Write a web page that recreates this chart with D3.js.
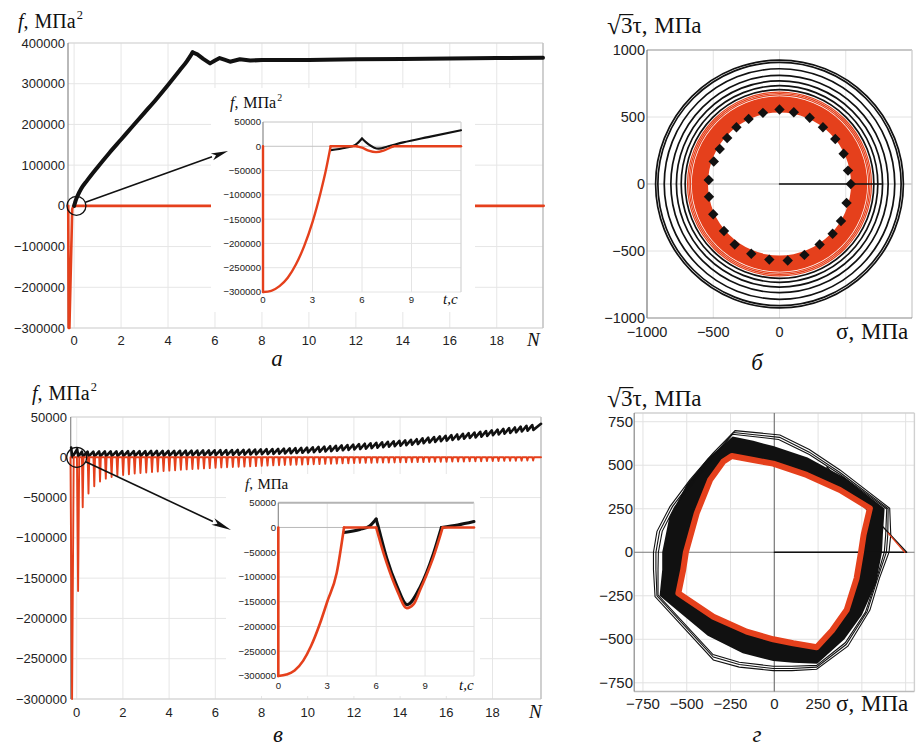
<!DOCTYPE html>
<html><head><meta charset="utf-8">
<script src="https://cdn.jsdelivr.net/npm/d3@7"></script>
<style>
html,body{margin:0;padding:0;background:#fff;}
svg{display:block;}
.tk{font-family:"Liberation Sans",Arial,sans-serif;fill:#222;}
.sf{font-family:"Liberation Serif","Times New Roman",serif;fill:#111;}
</style></head><body>
<svg id="fig" width="920" height="747"></svg>
<script>
// ================= DATA =================
// Panel а (main): f vs N
const aTickX = [0,2,4,6,8,10,12,14,16,18];
const aTickY = [-300000,-200000,-100000,0,100000,200000,300000,400000];
const aBlackN = [0,0.05,0.15,0.3,0.55,1.0,1.5,2.0,2.5,3.0,3.5,4.0,4.5,4.8,5.05,5.25,5.5,5.79,6.0,6.2,6.4,6.64,6.85,7.06,7.5,8.0,9.0,10.0,12.0,14.0,16.0,18.0,19.97];
const aBlackF = [0,10000,25000,42000,62000,95000,130000,163000,196000,229000,262000,297000,333000,355000,377000,372000,361000,350000,357000,363000,359000,354000,357000,360000,357000,358000,358000,358000,360000,361000,362000,363000,364000];
const aRedN = [-0.25,-0.23,-0.2,-0.08,-0.03,20];
const aRedF = [0,-300000,-300000,-8000,0,0];

// Inset а: f vs t
const iaTickX = [0,3,6,9];
const iaTickY = [-300000,-250000,-200000,-150000,-100000,-50000,0,50000];
const iaRedT = [0,0.001,0.5,1.0,1.5,2.0,2.5,3.0,3.5,3.8,4.1,5.7,6.0,6.4,6.85,7.3,7.7,7.9,12];
const iaRedF = [0,-300000,-297600,-288000,-270700,-243000,-205000,-156000,-94000,-51000,0,0,-3000,-9000,-12000,-9000,-3000,0,0];
const iaBlackT = [4.1,5.0,5.6,6.0,6.4,7.0,7.6,8.5,10,12];
const iaBlackF = [-8000,-3000,3000,16000,4000,-5000,0,8000,19000,33000];

// Panel в (main): f vs N, one entry per load half-cycle
const vTickX = [0,2,4,6,8,10,12,14,16,18];
const vTickY = [-300000,-250000,-200000,-150000,-100000,-50000,0,50000];
const vDip = [-300000,-166000,-62000,-45000,-36000,-30000,-26500,-24500,-23000,-22000,
 -21000,-20200,-19500,-18800,-18200,-17600,-17000,-16500,-16000,-15500,
 -15000,-14600,-14200,-13800,-13400,-13000,-12700,-12400,-12100,-11800,
 -11500,-11200,-10900,-10600,-10300,-10000,-9800,-9600,-9400,-9200,
 -9000,-8800,-8600,-8400,-8200,-8000,-7800,-7600,-7400,-7200,
 -7000,-6900,-6800,-6700,-6600,-6500,-6400,-6300,-6200,-6100,
 -6000,-5900,-5800,-5700,-5600,-5500,-5400,-5300,-5200,-5100,
 -5000,-4900,-4800,-4700,-4600,-4500,-4400,-4300,-4200,-4100,-4000];
const vBlackPeak = [12000,10000,7000,7000,7000,7200,7200,7300,7400,7500,
 7500,7600,7600,7700,7800,7800,7900,8000,8000,8100,
 8200,8300,8400,8500,8600,8700,8800,8900,9000,9100,
 9200,9400,9600,9800,10000,10200,10400,10700,11000,11300,
 11600,12000,12400,12800,13200,13700,14200,14700,15200,15700,
 16200,16800,17400,18000,18600,19200,19800,20400,21000,21700,
 22400,23500,24300,25100,25900,26700,27500,28300,29100,29900,
 30700,31600,32500,33400,34300,35200,36100,37000,38000,39000,40000];
const vBlackLow = [0,1000,1000,1100,1200,1300,1300,1400,1400,1500,
 1500,1600,1600,1700,1800,1800,1900,2000,2000,2100,
 2200,2300,2400,2500,2600,2700,2800,2900,3000,3100,
 3200,3400,3600,3800,4000,4200,4400,4700,5000,5300,
 5600,6000,6400,6800,7200,7700,8200,8700,9200,9700,
 10200,10800,11400,12000,12600,13200,13800,14400,15000,15700,
 16400,17500,18300,19100,19900,20700,21500,22300,23100,23900,
 24700,25600,26500,27400,28300,29200,30100,31000,32000,33000,34000];

// Inset в: f vs t
const ivTickX = [0,3,6,9];
const ivTickY = [-300000,-250000,-200000,-150000,-100000,-50000,0,50000];
const ivRedT = [0,0.001,0.5,1.0,1.53,2.0,2.56,3.0,3.58,4.03,6.0,6.3,6.65,7.27,7.88,8.3,8.7,9.1,9.52,10.08,12];
const ivRedF = [0,-300000,-297000,-289000,-269000,-240000,-193500,-150000,-92000,0,0,-35000,-72000,-126000,-163000,-155000,-126000,-95000,-59000,0,0];
const ivBlackT = [4.03,5.0,5.6,6.0,6.1,6.65,7.27,7.9,8.7,9.52,10.0,11,12];
const ivBlackF = [-10000,-4000,3000,17000,5000,-62000,-118000,-156000,-120000,-52000,0,5000,12000];

// Panel б: sigma - sqrt(3)tau plane
const bTickY = [-1000,-500,0,500,1000];
const bTickX = [-1000,-500,0];
const bBlackR = [935,918,870,820,778,742,712];
const bRedInner = 540, bRedOuter = 662;
const bRedThinR = [672,683,694];
const bDiamS = [0,108,228,328,421,484,517,538,506,464,401,303,188,62,-77,-213,-338,-419,-500,-532,-534,-496,-451,-395,-325,-233,-125];
const bDiamT = [556,536,494,423,336,226,100,0,-141,-276,-371,-451,-529,-571,-564,-521,-451,-351,-226,-95,30,168,261,343,423,486,531];
const bLoad = [[0,0],[770,0]];

// Panel г: loops in sigma - sqrt(3)tau plane
const gTick = [-750,-500,-250,0,250,500,750];
const gTickXLabels = [-750,-500,-250,0,250];
const gRed = [[-243,553],[-120,530],[-6,509],[185,444],[375,358],[546,253],[510,100],[495,0],[470,-150],[413,-332],[330,-450],[242,-546],[108,-523],[-6,-500],[-158,-456],[-348,-370],[-548,-236],[-520,-100],[-505,0],[-443,224],[-367,415],[-291,521]];
const gDense = [[-238,665],[-120,640],[-6,610],[190,545],[400,430],[630,252],[620,100],[615,0],[580,-180],[500,-360],[400,-500],[245,-640],[108,-635],[-6,-625],[-180,-580],[-380,-480],[-655,-250],[-640,-100],[-640,0],[-600,200],[-500,390],[-380,540]];
const gOuter1 = [[-224,699],[32,674],[200,590],[375,473],[659,253],[665,100],[655,0],[600,-150],[546,-332],[420,-540],[242,-672],[100,-680],[-6,-680],[-200,-660],[-348,-619],[-681,-255],[-690,-100],[-690,0],[-670,120],[-596,262],[-482,416],[-350,570]];
const gOuter2 = [[-232,688],[30,660],[200,575],[375,458],[650,250],[648,100],[640,0],[590,-150],[530,-340],[410,-530],[242,-660],[100,-668],[-6,-668],[-200,-645],[-348,-602],[-670,-250],[-676,-100],[-676,0],[-655,120],[-582,262],[-470,410],[-345,560]];
const gOuter3 = [[-238,678],[25,648],[200,562],[378,445],[642,248],[636,100],[628,0],[582,-160],[520,-345],[405,-520],[242,-650],[100,-655],[-6,-655],[-200,-632],[-350,-588],[-664,-246],[-664,-100],[-662,0],[-640,120],[-570,258],[-460,404],[-342,552]];
const gLoadBlack = [[0,0],[756,0],[300,490]];
const gLoadRed = [[745,0],[650,110]];

// ================= DRAW =================
const svg = d3.select("#fig");
const RED = "#e5401c", BLK = "#111";
const fmt = v => v < 0 ? "\u2212" + Math.abs(v) : String(v);
const MONO = d3.curveMonotoneX;

function vline(g, X, y0, y1, c, w){ g.append("line").attr("x1",X).attr("x2",X).attr("y1",y0).attr("y2",y1).attr("stroke",c).attr("stroke-width",w); }
function hline(g, Y, x0, x1, c, w){ g.append("line").attr("x1",x0).attr("x2",x1).attr("y1",Y).attr("y2",Y).attr("stroke",c).attr("stroke-width",w); }
function series(g, pts, X, Y, color, width, curve){
  const line = d3.line().x(d=>X(d[0])).y(d=>Y(d[1])).curve(curve||d3.curveLinear);
  return g.append("path").datum(pts).attr("d", line).attr("fill","none").attr("stroke",color)
    .attr("stroke-width",width).attr("stroke-linejoin","round").attr("stroke-linecap","round");
}
// draw a series split at the given indices (corners stay sharp), each piece smoothed
function pieces(g, xs, ys, cuts, X, Y, color, width, curves){
  const pts = xs.map((v,i)=>[v, ys[i]]);
  const idx = [0, ...cuts, pts.length-1];
  for (let i=0;i<idx.length-1;i++){
    series(g, pts.slice(idx[i], idx[i+1]+1), X, Y, color, width, curves[i]);
  }
}
const zip = (a,b) => a.map((v,i)=>[v,b[i]]);
function tickText(g, x, y, txt, size, anchor){
  return g.append("text").attr("class","tk").attr("x",x).attr("y",y).attr("font-size",size)
    .attr("text-anchor",anchor||"middle").text(txt);
}
function fLabel(g, x, y, size, sup){
  const t = g.append("text").attr("class","sf").attr("x",x).attr("y",y).attr("font-size",size);
  t.append("tspan").attr("font-style","italic").text("f");
  t.append("tspan").text(",");
  t.append("tspan").attr("dx", size*0.3).text("МПа");
  if (sup) t.append("tspan").attr("dx",1).attr("dy",-size*0.45).attr("font-size",size*0.62).text("2");
}
function arrow(g, x0, y0, x1, y1, len, hw){
  const ang = Math.atan2(y1-y0, x1-x0);
  const bx = x1 - len*Math.cos(ang), by = y1 - len*Math.sin(ang);
  g.append("line").attr("x1",x0).attr("y1",y0).attr("x2",bx).attr("y2",by).attr("stroke",BLK).attr("stroke-width",1.6);
  const px = -Math.sin(ang)*hw, py = Math.cos(ang)*hw;
  g.append("path").attr("d",`M${x1},${y1}L${bx+px},${by+py}L${bx+len*0.25*Math.cos(ang)},${by+len*0.25*Math.sin(ang)}L${bx-px},${by-py}Z`).attr("fill",BLK);
}
function sqrtLabel(g, x, y, size){
  const t1 = g.append("text").attr("class","sf").attr("x",x).attr("y",y+1).attr("font-size",size*1.1).text("\u221A");
  const w1 = t1.node().getComputedTextLength();
  const t2 = g.append("text").attr("class","sf").attr("x",x+w1).attr("y",y).attr("font-size",size).text("3");
  const w2 = t2.node().getComputedTextLength();
  g.append("line").attr("x1",x+w1-1.5).attr("x2",x+w1+w2+1).attr("y1",y-size*0.8).attr("y2",y-size*0.8).attr("stroke",BLK).attr("stroke-width",1.2);
  const t3 = g.append("text").attr("class","sf").attr("x",x+w1+w2).attr("y",y).attr("font-size",size);
  t3.append("tspan").text("τ,");
  t3.append("tspan").attr("dx",size*0.3).text("МПа");
}
function sigmaLabel(g, x, y, size){
  const t = g.append("text").attr("class","sf").attr("x",x).attr("y",y).attr("font-size",size);
  t.append("tspan").text("σ,");
  t.append("tspan").attr("dx",size*0.3).text("МПа");
}

// ---------- Panel а ----------
{
  const g = svg.append("g");
  const X = d3.scaleLinear().domain([-0.26, 19.97]).range([68, 543]);
  const Y = d3.scaleLinear().domain([-300000, 400000]).range([328, 43]);
  const [xl, xr] = X.range(), [yb, yt] = Y.range();
  aTickX.forEach(t => vline(g, X(t), yt, yb, "#e6e6e6", 1));
  aTickY.forEach(t => hline(g, Y(t), xl, xr, "#e6e6e6", 1));
  hline(g, yt, xl, xr, "#d6d6d6", 1.2);
  hline(g, yb, xl, xr, "#d6d6d6", 1.2);
  vline(g, xr, yt, yb, "#c4c4c4", 1.6);
  vline(g, xl, yt, yb, "#8a8a8a", 1.2);
  aTickY.forEach(t => tickText(g, 65, Y(t)+4.5, fmt(t), 13, "end"));
  aTickX.forEach(t => tickText(g, X(t), 345, fmt(t), 13));
  g.append("text").attr("class","sf").attr("x",527).attr("y",346).attr("font-size",19).attr("font-style","italic").text("N");
  fLabel(g, 18, 28, 20, true);
  series(g, zip(aRedN, aRedF), X, Y, RED, 2.6);
  pieces(g, aBlackN, aBlackF, [14], X, Y, BLK, 4, [MONO, d3.curveLinear]);
  g.append("circle").attr("cx",X(0.1)).attr("cy",Y(0)).attr("r",9.5).attr("fill","none").attr("stroke",BLK).attr("stroke-width",1.3);
  // inset а
  g.append("rect").attr("x",211).attr("y",88).attr("width",264).attr("height",224).attr("fill","#fff");
  arrow(g, X(0.1)+9, Y(0)-3.5, 228, 151, 17, 3.6);
  const IX = d3.scaleLinear().domain([0,12]).range([263, 461]);
  const IY = d3.scaleLinear().domain([-300000, 50000]).range([292, 122]);
  const [ixl, ixr] = IX.range(), [iyb, iyt] = IY.range();
  iaTickX.forEach(t => vline(g, IX(t), iyt, iyb, "#e4e4e4", 1));
  iaTickY.forEach(t => hline(g, IY(t), ixl, ixr, t===0 ? "#c4c4c4" : "#e4e4e4", 1));
  hline(g, iyt, ixl, ixr, "#d2d2d2", 1.2);
  vline(g, ixr, iyt, iyb, "#d2d2d2", 1.2);
  vline(g, ixl, iyt, iyb, "#8a8a8a", 1.1);
  iaTickY.forEach(t => tickText(g, 261, IY(t)+3.4, fmt(t), 9.6, "end"));
  iaTickX.forEach(t => tickText(g, IX(t), 303, fmt(t), 9.6));
  g.append("text").attr("class","sf").attr("x",443).attr("y",304).attr("font-size",15).attr("font-style","italic").text("t,c");
  fLabel(g, 230, 108, 16, true);
  pieces(g, iaBlackT, iaBlackF, [3], IX, IY, BLK, 2.2, [MONO, MONO]);
  pieces(g, iaRedT, iaRedF, [1,10,11,17], IX, IY, RED, 2.4, [d3.curveLinear, MONO, d3.curveLinear, MONO, d3.curveLinear]);
  g.append("text").attr("class","sf").attr("x",277).attr("y",366).attr("font-size",23).attr("font-style","italic").attr("text-anchor","middle").text("а");
}

// ---------- Panel в ----------
{
  const g = svg.append("g");
  const X = d3.scaleLinear().domain([-0.26, 20.1]).range([70.7, 541]);
  const Y = d3.scaleLinear().domain([-300000, 50000]).range([699, 417]);
  const [xl, xr] = X.range(), [yb, yt] = Y.range();
  vTickX.forEach(t => vline(g, X(t), yt, yb, "#e6e6e6", 1));
  vTickY.forEach(t => hline(g, Y(t), xl, xr, "#e6e6e6", 1));
  hline(g, yt, xl, xr, "#d6d6d6", 1.2);
  hline(g, yb, xl, xr, "#cfcfcf", 1.2);
  vline(g, xr, yt, yb, "#c4c4c4", 1.6);
  vline(g, xl, yt, yb, "#8a8a8a", 1.2);
  vTickY.forEach(t => tickText(g, 67, Y(t)+4.5, fmt(t), 13, "end"));
  vTickX.forEach(t => tickText(g, X(t), 717, fmt(t), 13));
  g.append("text").attr("class","sf").attr("x",529).attr("y",718).attr("font-size",19).attr("font-style","italic").text("N");
  fLabel(g, 32, 400, 20, true);
  const cycN = vDip.map((d,k) => k===0 ? -0.2 : (k===1 ? 0.06 : 0.26 + (k-2)*0.25));
  const blackPts = [];
  cycN.forEach((n,k) => { blackPts.push([n-0.04, vBlackPeak[k]]); blackPts.push([n+0.01, vBlackLow[k]]); });
  blackPts.push([20.1, vBlackPeak[vBlackPeak.length-1]+1500]);
  series(g, blackPts, X, Y, BLK, 2.6);
  const redPts = [[-0.26,0]];
  cycN.forEach((n,k) => { const w = k===0 ? 0.07 : (k===1 ? 0.05 : 0.035); redPts.push([n-w,0]); redPts.push([n, vDip[k]]); redPts.push([n+w,0]); });
  redPts.push([20.1,0]);
  series(g, redPts, X, Y, RED, 1.9);
  g.append("circle").attr("cx",X(0.0)).attr("cy",Y(0)).attr("r",10).attr("fill","none").attr("stroke",BLK).attr("stroke-width",1.3);
  // inset в
  g.append("rect").attr("x",226).attr("y",474).attr("width",254).attr("height",222).attr("fill","#fff");
  arrow(g, X(0.0)+9, Y(0)+4.5, 231, 530, 20, 3.6);
  const IX = d3.scaleLinear().domain([0,12]).range([278.3, 474]);
  const IY = d3.scaleLinear().domain([-300000, 50000]).range([676, 502.7]);
  const [ixl, ixr] = IX.range(), [iyb, iyt] = IY.range();
  ivTickX.forEach(t => vline(g, IX(t), iyt, iyb, "#e4e4e4", 1));
  ivTickY.forEach(t => hline(g, IY(t), ixl, ixr, t===0 ? "#b8b8b8" : "#e4e4e4", 1));
  hline(g, iyt, ixl, ixr, "#b4b4b4", 2);
  vline(g, ixr, iyt, iyb, "#dcdcdc", 1);
  vline(g, ixl, iyt, iyb, "#8a8a8a", 1.1);
  ivTickY.forEach(t => tickText(g, 276, IY(t)+3.4, fmt(t), 9.6, "end"));
  ivTickX.forEach(t => tickText(g, IX(t), 689, fmt(t), 9.6));
  g.append("text").attr("class","sf").attr("x",459).attr("y",690).attr("font-size",15).attr("font-style","italic").text("t,c");
  fLabel(g, 245, 489, 15, false);
  pieces(g, ivBlackT, ivBlackF, [3,10], IX, IY, BLK, 3, [MONO, MONO, MONO]);
  pieces(g, ivRedT, ivRedF, [1,9,10,19], IX, IY, RED, 2.6, [d3.curveLinear, MONO, d3.curveLinear, MONO, d3.curveLinear]);
  g.append("text").attr("class","sf").attr("x",278).attr("y",742).attr("font-size",23).attr("font-style","italic").attr("text-anchor","middle").text("в");
}

// ---------- Panel б ----------
{
  const g = svg.append("g");
  const X = d3.scaleLinear().domain([-1000,1000]).range([647,912]);
  const Y = d3.scaleLinear().domain([-1000,1000]).range([318,50]);
  const [xl, xr] = X.range(), [yb, yt] = Y.range();
  [-500,0,500].forEach(t => vline(g, X(t), yt, yb, "#e2e2e2", 1));
  [-500,500].forEach(t => hline(g, Y(t), xl, xr, "#e2e2e2", 1));
  hline(g, Y(0), xl, xr, "#b0b0b0", 1.2);
  hline(g, yt, xl, xr, "#b4b4b4", 1.6);
  vline(g, xr, yt, yb, "#d0d0d0", 1.4);
  vline(g, xl, yt, yb, "#777", 1.2);
  hline(g, yb, xl, xr, "#888", 1.2);
  bTickY.forEach(t => tickText(g, 645, Y(t)+5, fmt(t), 14.5, "end"));
  bTickX.forEach(t => tickText(g, X(t), 337, fmt(t), 14.5));
  const cx = X(0), cy = Y(0), px = r => X(r) - X(0);
  bBlackR.forEach(r => g.append("circle").attr("cx",cx).attr("cy",cy).attr("r",px(r)).attr("fill","none").attr("stroke",BLK).attr("stroke-width",1.7));
  g.append("path").attr("transform",`translate(${cx},${cy})`)
    .attr("d", d3.arc().innerRadius(px(bRedInner)).outerRadius(px(bRedOuter)).startAngle(0).endAngle(2*Math.PI)())
    .attr("fill",RED);
  bRedThinR.forEach(r => g.append("circle").attr("cx",cx).attr("cy",cy).attr("r",px(r)).attr("fill","none").attr("stroke",RED).attr("stroke-width",1.2));
  series(g, bLoad, X, Y, BLK, 1.4);
  const h = 5.2;
  bDiamS.forEach((s,i) => g.append("path").attr("transform",`translate(${X(s)},${Y(bDiamT[i])})`)
    .attr("d",`M0,${-h}L${h},0L0,${h}L${-h},0Z`).attr("fill",BLK));
  sqrtLabel(g, 607, 33, 23);
  sigmaLabel(g, 836, 339, 23);
  g.append("text").attr("class","sf").attr("x",757).attr("y",370).attr("font-size",23).attr("font-style","italic").attr("text-anchor","middle").text("б");
}

// ---------- Panel г ----------
{
  const g = svg.append("g");
  const X = d3.scaleLinear().domain([-800,800]).range([634.2,914.4]);
  const Y = d3.scaleLinear().domain([-800,800]).range([691.5,413]);
  const [xl, xr] = X.range(), [yb, yt] = Y.range();
  gTick.filter(t=>t!==0).forEach(t => { vline(g, X(t), yt, yb, "#e2e2e2", 1); hline(g, Y(t), xl, xr, "#e2e2e2", 1); });
  hline(g, yt, xl, xr, "#d0d0d0", 1.4);
  vline(g, xr, yt, yb, "#d0d0d0", 1.4);
  hline(g, yb, xl, xr, "#bbb", 1.4);
  vline(g, xl, yt, yb, "#888", 1.2);
  vline(g, X(0), yt, yb, "#777", 1.2);
  hline(g, Y(0), xl, xr, "#777", 1.2);
  gTick.forEach(t => tickText(g, 633, Y(t)+5, fmt(t), 15, "end"));
  gTickXLabels.forEach(t => tickText(g, X(t), 709, fmt(t), 15));
  const loop = d3.line().x(d=>X(d[0])).y(d=>Y(d[1])).curve(d3.curveLinearClosed);
  g.append("path").attr("d", loop(gDense) + loop(gRed)).attr("fill-rule","evenodd").attr("fill",BLK);
  [gOuter1, gOuter2, gOuter3].forEach(L => g.append("path").attr("d", loop(L)).attr("fill","none").attr("stroke",BLK).attr("stroke-width",1.1));
  series(g, gLoadBlack, X, Y, BLK, 1.3);
  series(g, gLoadRed, X, Y, RED, 1.3);
  g.append("path").attr("d", loop(gRed)).attr("fill","none").attr("stroke",RED).attr("stroke-width",6).attr("stroke-linejoin","round");
  sqrtLabel(g, 607, 406, 23);
  sigmaLabel(g, 836, 711, 23);
  g.append("text").attr("class","sf").attr("x",757).attr("y",742).attr("font-size",23).attr("font-style","italic").attr("text-anchor","middle").text("г");
}
</script></body></html>
